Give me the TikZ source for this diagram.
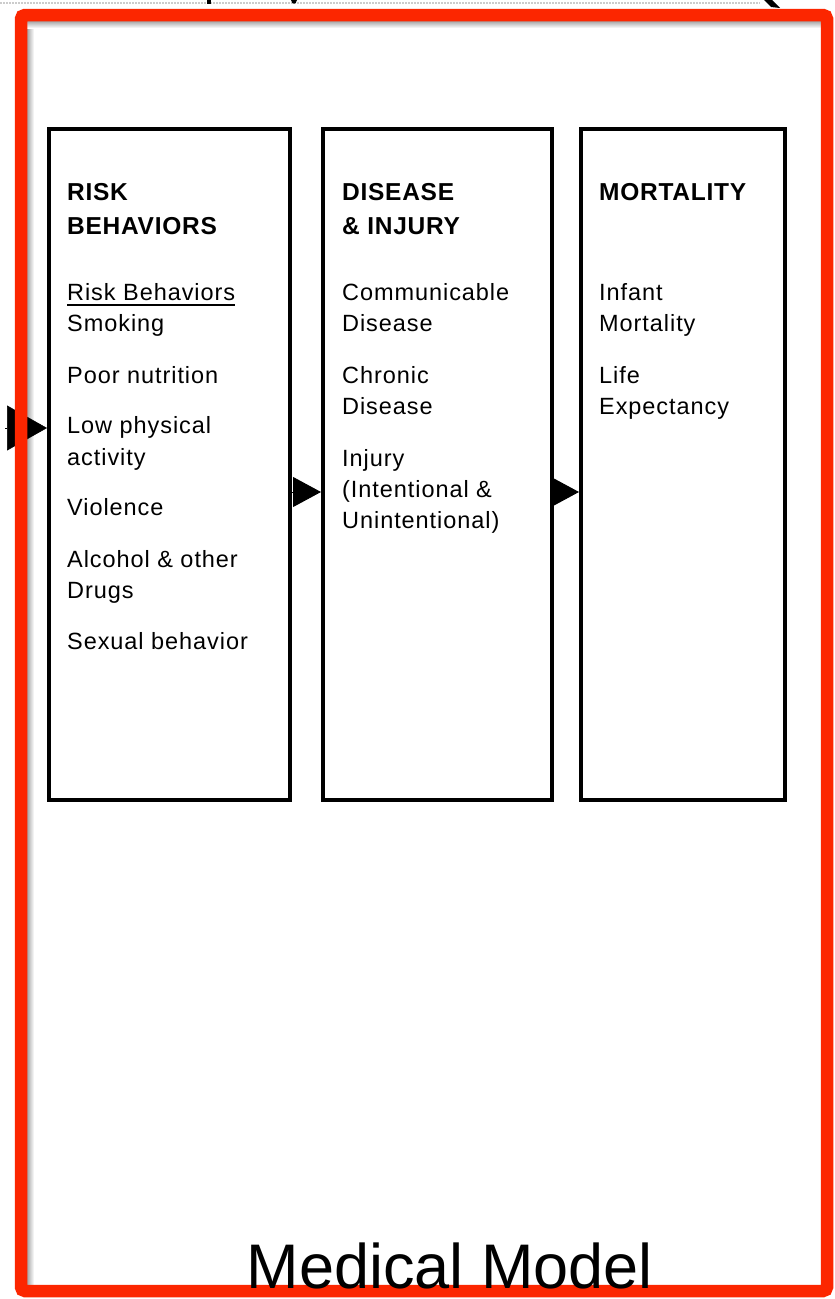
\documentclass[tikz,border=0pt]{standalone}
\usepackage{fontspec}
\setmainfont{Liberation Sans}
\usetikzlibrary{arrows.meta}
\definecolor{framered}{RGB}{252,38,0}
\newcommand{\ulbox}[1]{\setbox0\hbox{#1}\rlap{\rule[-5.5pt]{\wd0}{1.8pt}}\box0}
\tikzset{
  panel/.style={draw=black, line width=3.5pt, fill=white, inner sep=0pt},
  head/.style={anchor=base west, inner sep=0pt, font=\bfseries\fontsize{24.5}{30}\selectfont\addfontfeature{LetterSpace=3}},
  item/.style={anchor=base west, inner sep=0pt, font=\fontsize{23.5}{30}\selectfont\addfontfeature{LetterSpace=4}},
  flow/.style={line width=1pt, -{Triangle[length=28pt,width=30pt]}},
  feed/.style={line width=0.5pt, -{Triangle[length=40pt,width=45pt]}},
  title/.style={anchor=base, inner sep=0pt, font=\fontsize{63}{70}\selectfont}
}
\begin{document}
\begin{tikzpicture}[x=1pt,y=-1pt]
\useasboundingbox (0,0) rectangle (835,1299);
\fill[white] (0,0) rectangle (835,1299);

% remnants along the upper edge
\draw[gray!40, line width=2.5pt, dash pattern=on 1.5pt off 1.5pt] (0,3) -- (760,3);
\fill[black] (207,0) rectangle (211,3.5);
\fill[black] (291,0) .. controls (292,5) and (296,5) .. (297,0) -- cycle;
\fill[black] (764,0) -- (772,0) -- (780,8) -- (771,7) -- cycle;

% inner shadow of the frame
\shade[left color=gray!70, right color=white] (27,21) rectangle (34,1285);
\shade[top color=gray!70, bottom color=white] (27,21) rectangle (821,28);

% the three stages
\node[panel, minimum width=241pt, minimum height=671pt, anchor=north west] (risk) at (47,127) {};
\node[panel, minimum width=229pt, minimum height=671pt, anchor=north west] (disease) at (321,127) {};
\node[panel, minimum width=204pt, minimum height=671pt, anchor=north west] (mort) at (579,127) {};

% heights of the connectors
\coordinate (inrow) at (0,428);
\coordinate (midrow) at (0,492);
\coordinate (feedstart) at (5,428);

\draw[feed] (feedstart) -- (risk.west |- inrow);
\draw[flow] (risk.east |- midrow) -- (disease.west |- midrow);
\draw[flow] (disease.east |- midrow) -- (mort.west |- midrow);

% stage one
\node[head] (r1) at (67,200) {RISK};
\node[head] (r2) at (67,234) {BEHAVIORS};
\node[item] (r3) at (67,300) {\ulbox{Risk Behaviors}};
\node[item] (r4) at (67,331) {Smoking};
\node[item] (r5) at (67,383) {Poor nutrition};
\node[item] (r6) at (67,433) {Low physical};
\node[item] (r7) at (67,465) {activity};
\node[item] (r8) at (67,515) {Violence};
\node[item] (r9) at (67,567) {Alcohol \& other};
\node[item] (r10) at (67,598) {Drugs};
\node[item] (r11) at (67,649) {Sexual behavior};

% stage two
\node[head] (d1) at (342,200) {DISEASE};
\node[head] (d2) at (342,234) {\& INJURY};
\node[item] (d3) at (342,300) {Communicable};
\node[item] (d4) at (342,331) {Disease};
\node[item] (d5) at (342,383) {Chronic};
\node[item] (d6) at (342,414) {Disease};
\node[item] (d7) at (342,466) {Injury};
\node[item] (d8) at (342,497) {(Intentional \&};
\node[item] (d9) at (342,528) {Unintentional)};

% stage three
\node[head] (m1) at (599,200) {MORTALITY};
\node[item] (m2) at (599,300) {Infant};
\node[item] (m3) at (599,331) {Mortality};
\node[item] (m4) at (599,383) {Life};
\node[item] (m5) at (599,414) {Expectancy};

% red frame
\draw[framered, line width=12.5pt, rounded corners=4pt] (21,15) rectangle (827,1291);

\node[title] (caption) at (450,1288) {Medical Model};
\end{tikzpicture}
\end{document}
